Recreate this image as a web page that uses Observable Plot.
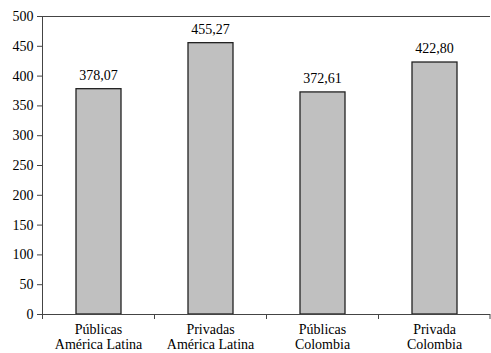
<!DOCTYPE html>
<html><head><meta charset="utf-8">
<script src="https://cdn.jsdelivr.net/npm/d3@7"></script>
<script src="https://cdn.jsdelivr.net/npm/@observablehq/plot@0.6"></script>
<style>body{margin:0;background:#fff}</style>
</head><body><div id="chart"></div>
<script>
const categories = ["Públicas\nAmérica Latina", "Privadas\nAmérica Latina", "Públicas\nColombia", "Privada\nColombia"];
const values = [378.07, 455.27, 372.61, 422.80];
const yTicks = [0, 50, 100, 150, 200, 250, 300, 350, 400, 450, 500];

const data = categories.map((c, i) => ({cat: c, value: values[i]}));
const fmt = v => v.toFixed(2).replace(".", ",");
const W = 491, H = 353, mL = 42, mR = 1, mT = 16, mB = 39;
const half = (W - mL - mR) / categories.length / 2;
const axisColor = "#444";

const chart = Plot.plot({
  width: W, height: H,
  marginLeft: mL, marginRight: mR, marginTop: mT, marginBottom: mB,
  style: {fontFamily: "'Liberation Serif', serif", fontSize: "14px", color: "#000", background: "#fff"},
  x: {domain: categories, padding: 0, label: null},
  y: {domain: [0, 500], ticks: yTicks, label: null},
  marks: [
    Plot.barY(data, {x: "cat", y: "value", fill: "#c0c0c0", stroke: "#222", strokeWidth: 1.3, insetLeft: 34, insetRight: 33}),
    Plot.text(data, {x: "cat", y: "value", text: d => fmt(d.value), dy: -14, fontSize: 14, fill: "#000"}),
    Plot.ruleY([500], {stroke: axisColor, strokeWidth: 1}),
    Plot.ruleY([0], {stroke: axisColor, strokeWidth: 1}),
    Plot.ruleX(categories, {x: d => d, dx: -half, y1: 0, y2: 0, insetBottom: -5, stroke: axisColor}),
    Plot.ruleX([categories[categories.length - 1]], {x: d => d, dx: half - 0.5, y1: 0, y2: 0, insetBottom: -5, stroke: axisColor}),
    Plot.frame({anchor: "left", stroke: axisColor}),
    Plot.axisY({ticks: yTicks, tickSize: 5, tickPadding: 4, stroke: axisColor, fontSize: 14, fill: "#000"}),
    Plot.axisX({tickSize: 0, tickPadding: 9, fontSize: 14, lineHeight: 1.05, fill: "#000"})
  ]
});
document.getElementById("chart").appendChild(chart);
</script></body></html>
